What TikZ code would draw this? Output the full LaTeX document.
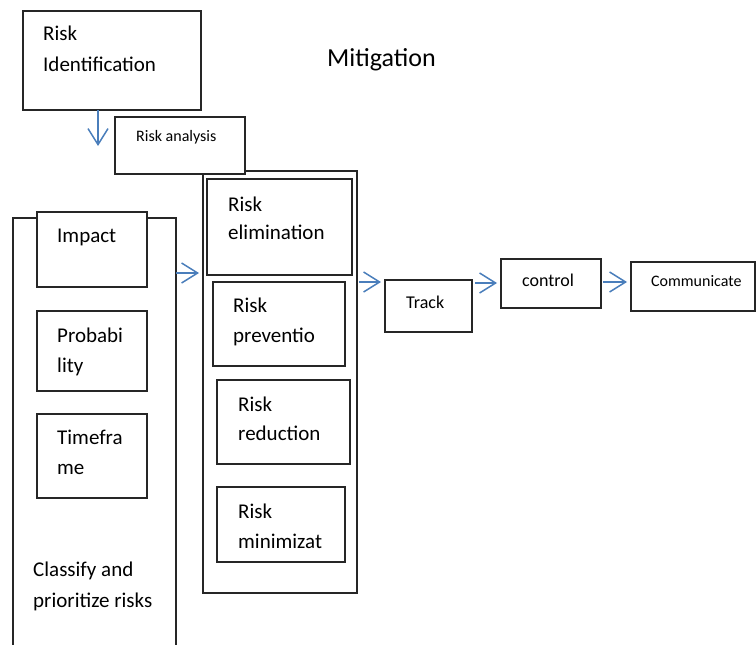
\documentclass[tikz,border=0pt]{standalone}
\usepackage{fontspec}
\setmainfont{Carlito}
\usetikzlibrary{arrows.meta}
\definecolor{arrblue}{HTML}{4A7EBB}
\definecolor{boxline}{HTML}{262626}
\tikzset{
  box/.style={draw=boxline, line width=1.1pt, fill=white, inner sep=0pt, outer sep=0pt, anchor=north west},
  thickbox/.style={box, line width=2pt},
  lbl/.style={inner sep=0pt, anchor=base west, text=black},
  big/.style={lbl, font=\fontsize{21}{21}\selectfont},
  mid/.style={lbl, font=\fontsize{18}{18}\selectfont},
  small/.style={lbl, font=\fontsize{16}{16}\selectfont},
  arr/.style={draw=arrblue, line width=1.5pt, -{Straight Barb[length=16pt,width=20pt,line width=1.5pt]}}
}
\begin{document}
\begin{tikzpicture}[x=1pt,y=-1pt]
\useasboundingbox (0,0) rectangle (756,645);
% title
\node[lbl, font=\fontsize{26}{26}\selectfont] (title) at (327,66) {Mitigation};
% Risk identification
\node[box, minimum width=178pt, minimum height=99pt] (ident) at (23,11) {};
\node[big] (identa) at (43,41) {Risk};
\node[big] (identb) at (43,71) {Identification};
% left container (open at the bottom)
\coordinate (cbl) at (13,645);
\coordinate (ctl) at (13,218);
\coordinate (ctr) at (176,218);
\coordinate (cbr) at (176,645);
\draw[draw=boxline, line width=1.1pt] (cbl) -- (ctl) -- (ctr) -- (cbr);
% mitigation container
\node[box, minimum width=154pt, minimum height=422pt] (mitig) at (203,171) {};
% Risk analysis
\node[thickbox, minimum width=130pt, minimum height=57pt] (analysis) at (115,117) {};
\node[small] (analysist) at (136,141) {Risk analysis};
% Classify items
\node[box, minimum width=110pt, minimum height=75pt] (impact) at (37,212) {};
\node[big] (impactt) at (57,242) {Impact};
\node[box, minimum width=110pt, minimum height=80pt] (prob) at (37,311) {};
\node[big] (proba) at (57,342) {Probabi};
\node[big] (probb) at (57,372) {lity};
\node[box, minimum width=110pt, minimum height=84pt] (time) at (37,414) {};
\node[big] (timea) at (57,444) {Timefra};
\node[big] (timeb) at (57,474) {me};
\node[big] (classa) at (33,576) {Classify and};
\node[big] (classb) at (33,607) {prioritize risks};
% Mitigation items
\node[box, minimum width=145pt, minimum height=96pt] (elim) at (207,179) {};
\node[big] (elima) at (228,211) {Risk};
\node[big] (elimb) at (228,239) {elimination};
\node[box, minimum width=132pt, minimum height=84pt] (prev) at (213,282) {};
\node[big] (preva) at (233,312) {Risk};
\node[big] (prevb) at (233,342) {preventio};
\node[box, minimum width=133pt, minimum height=84pt] (red) at (217,380) {};
\node[big] (reda) at (238,411) {Risk};
\node[big] (redb) at (238,440) {reduction};
\node[box, minimum width=128pt, minimum height=75pt] (mini) at (217,487) {};
\node[big] (minia) at (238,518) {Risk};
\node[big] (minib) at (238,548) {minimizat};
% Track, control, Communicate
\node[box, minimum width=87pt, minimum height=52pt] (track) at (385,280) {};
\node[mid] (trackt) at (406,308) {Track};
\node[box, minimum width=100pt, minimum height=49pt] (control) at (501,259) {};
\node[mid] (controlt) at (522,286) {control};
\node[box, minimum width=124pt, minimum height=49pt] (comm) at (631,262) {};
\node[small] (commt) at (651,286) {Communicate};
% arrows
\coordinate (downend) at (98,146);
\draw[arr] (ident.south -| downend) -- (downend);
\coordinate (ya) at (0,273);
\coordinate (yb) at (0,282);
\coordinate (yc) at (0,283);
\draw[arr, shorten <=0pt, shorten >=4pt] (ctr |- ya) -- (mitig.west |- ya);
\draw[arr, shorten <=2pt, shorten >=4pt] (mitig.east |- yb) -- (track.west |- yb);
\draw[arr, shorten <=3pt, shorten >=4pt] (track.east |- yc) -- (control.west |- yc);
\draw[arr, shorten <=2pt, shorten >=4pt] (control.east |- yb) -- (comm.west |- yb);
\end{tikzpicture}
\end{document}
